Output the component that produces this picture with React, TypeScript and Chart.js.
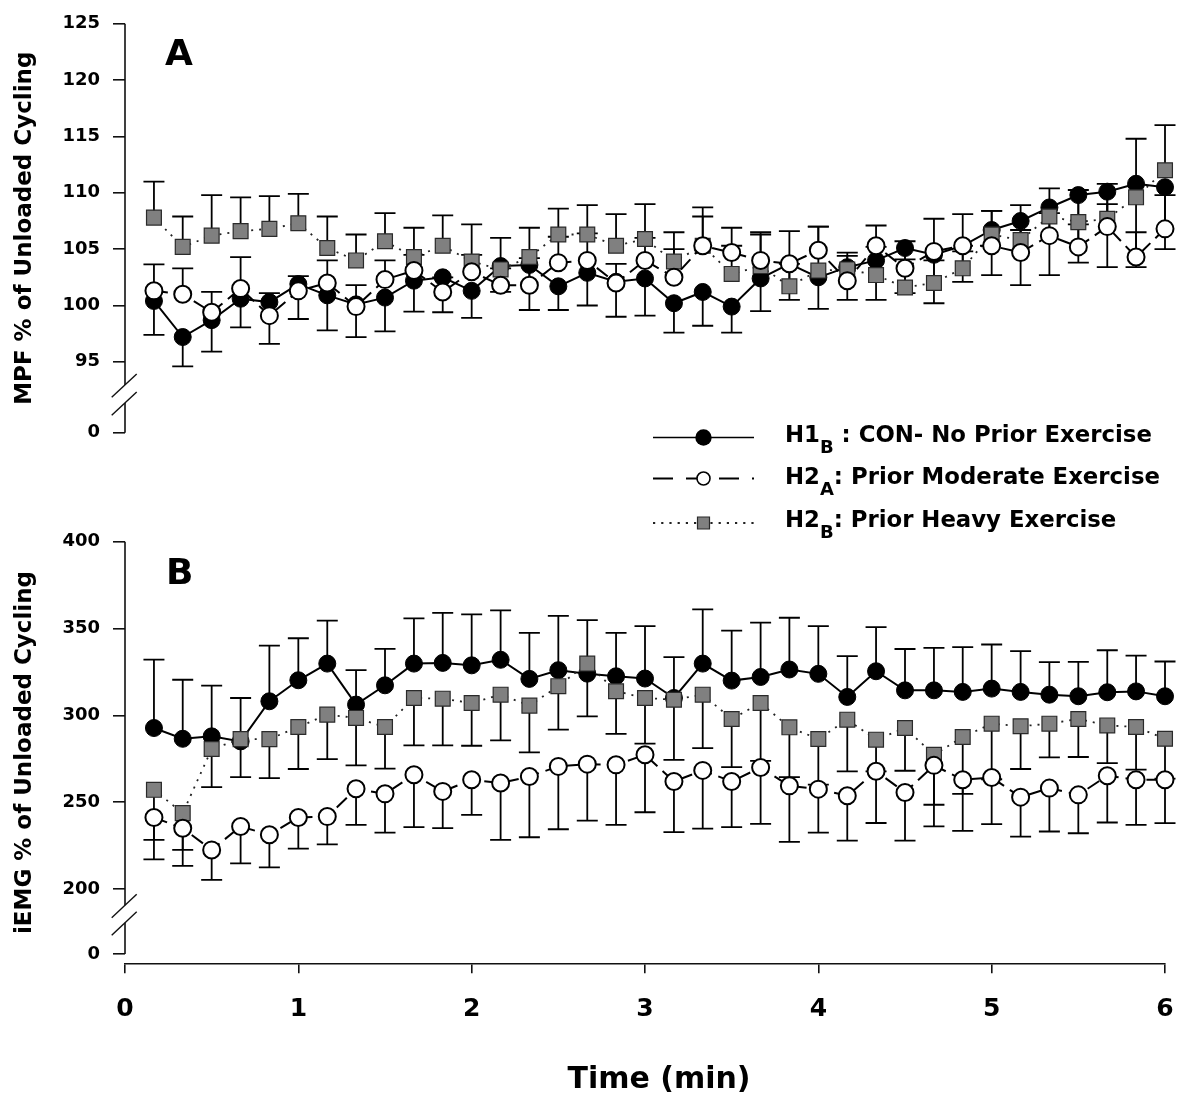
import React, { useEffect, useRef } from 'react';
import { Chart, registerables } from 'chart.js';

Chart.register(...registerables);

const FONT = "'DejaVu Sans', 'Liberation Sans', sans-serif";

// Time points (min)
const timeMin = [0.167, 0.333, 0.5, 0.667, 0.833, 1, 1.167, 1.333, 1.5, 1.667, 1.833, 2,
  2.167, 2.333, 2.5, 2.667, 2.833, 3, 3.167, 3.333, 3.5, 3.667, 3.833, 4,
  4.167, 4.333, 4.5, 4.667, 4.833, 5, 5.167, 5.333, 5.5, 5.667, 5.833, 6];

// Panel A: MPF % of unloaded cycling
const mpfCon = [100.4, 97.2, 98.7, 100.6, 100.3, 101.9, 100.9, 100.1, 100.7, 102.2, 102.5, 101.3,
  103.5, 103.6, 101.7, 102.9, 102.1, 102.4, 100.2, 101.2, 99.9, 102.4, 103.7, 102.5,
  103.4, 104.0, 105.1, 104.5, 105.3, 106.7, 107.5, 108.7, 109.8, 110.1, 110.8, 110.5];
const mpfConSE = [3.0, 2.6, 2.8, 2.55, 3.7, 3.1, 3.1, 2.9, 3.0, 2.75, 3.1, 2.4,
  2.3, 4.0, 2.1, 2.9, 3.1, 3.3, 2.6, 3.0, 2.3, 2.9, 3.2, 2.8,
  2.9, 3.5, 4.0, 4.3, 3.2, 4.0, 5.7, 6.0, 6.0, 6.7, 7.4, 5.5];
const mpfModerate = [101.3, 101.0, 99.4, 101.5, 99.1, 101.3, 102.0, 99.9, 102.3, 103.1, 101.2, 103.0,
  101.8, 101.8, 103.8, 104.0, 102.0, 104.0, 102.5, 105.3, 104.7, 104.0, 103.7, 104.9,
  102.2, 105.3, 103.3, 104.8, 105.3, 105.3, 104.7, 106.2, 105.2, 107.0, 104.3, 106.8];
const mpfModerateSE = [2.35, 2.3, 1.8, 2.8, 2.0, 1.3, 2.0, 1.9, 1.7, 1.4, 1.3, 1.5,
  1.5, 2.4, 2.3, 2.4, 1.7, 2.0, 2.5, 2.6, 0.6, 2.3, 2.9, 2.1,
  2.5, 1.8, 2.4, 2.9, 2.8, 3.1, 2.0, 2.0, 2.0, 2.0, 2.2, 3.0];
const mpfHeavy = [107.8, 105.2, 106.2, 106.6, 106.8, 107.3, 105.1, 104.0, 105.7, 104.3, 105.3, 103.9,
  103.2, 104.3, 106.3, 106.3, 105.3, 105.9, 103.9, 105.3, 102.8, 103.5, 101.7, 103.1,
  103.2, 102.7, 101.6, 102.0, 103.3, 106.3, 105.8, 107.9, 107.4, 107.7, 109.6, 112.0];
const mpfHeavySE = [3.2, 2.7, 3.6, 3.0, 2.9, 2.6, 2.8, 2.3, 2.5, 2.6, 2.7, 3.3,
  2.8, 2.6, 2.3, 2.6, 2.8, 3.1, 2.6, 3.4, 4.1, 3.0, 2.0, 3.9,
  1.2, 2.5, 2.5, 2.0, 1.5, 2.1, 3.1, 2.5, 2.85, 3.1, 5.2, 4.0];

// Panel B: iEMG % of unloaded cycling
const emgCon = [292.7, 286.5, 287.9, 285.0, 308.1, 320.2, 329.8, 306.2, 317.3, 329.8, 330.2, 328.8,
  332.0, 321.0, 326.0, 324.0, 322.5, 321.2, 310.0, 329.8, 320.0, 322.1, 326.4, 323.9,
  310.6, 325.4, 314.4, 314.4, 313.5, 315.4, 313.5, 311.9, 311.0, 313.3, 313.8, 311.0];
const emgConSE = [39.4, 34.0, 29.2, 25.0, 32.1, 24.2, 24.8, 19.8, 21.0, 26.0, 28.8, 29.4,
  28.5, 26.5, 31.3, 30.8, 25.0, 30.2, 23.5, 31.2, 28.8, 31.3, 29.8, 27.5,
  23.5, 25.4, 23.8, 24.4, 25.8, 25.4, 23.5, 18.8, 19.8, 24.2, 20.6, 20.0];
const emgModerate = [241.2, 235.0, 222.5, 236.0, 231.2, 241.2, 241.7, 257.7, 254.8, 265.8, 256.2, 262.9,
  261.0, 264.8, 270.6, 271.9, 271.5, 277.3, 261.9, 268.3, 261.9, 270.0, 259.4, 257.5,
  253.7, 267.8, 255.6, 271.2, 262.9, 264.2, 252.9, 258.1, 254.2, 265.2, 262.9, 262.9];
const emgModerateSE = [24.2, 21.7, 17.3, 21.2, 18.8, 18.0, 16.0, 20.8, 22.3, 30.2, 21.2, 20.2,
  32.7, 35.0, 36.2, 32.5, 34.6, 33.1, 29.2, 33.5, 26.3, 32.5, 32.3, 25.0,
  25.8, 29.8, 27.7, 35.2, 29.4, 26.9, 22.7, 25.0, 22.1, 26.9, 26.0, 25.0];
const emgHeavy = [257.1, 243.7, 280.6, 286.3, 286.3, 293.3, 300.4, 298.5, 293.3, 310.0, 309.6, 307.1,
  311.9, 305.6, 316.8, 329.8, 313.9, 310.0, 309.0, 311.9, 297.9, 307.1, 293.1, 286.4,
  297.5, 286.0, 292.7, 277.3, 287.5, 295.2, 293.7, 295.2, 297.9, 294.2, 293.3, 286.5];
const emgHeavySE = [28.8, 21.2, 21.9, 21.9, 22.5, 24.2, 25.6, 27.3, 24.0, 27.3, 26.9, 24.6,
  26.3, 26.9, 25.0, 30.4, 24.6, 26.3, 34.6, 30.8, 27.7, 33.3, 28.7, 26.3,
  29.8, 18.3, 24.6, 28.8, 32.7, 32.0, 24.6, 19.4, 21.9, 21.7, 24.6, 23.0];

// Axis ticks (broken axes: lowest tick is labelled 0)
const mpfTicks = [88.71, 95, 100, 105, 110, 115, 120, 125];
const emgTicks = [162.57, 200, 250, 300, 350, 400];
const xTicks = [0, 1, 2, 3, 4, 5, 6];

const legendLabels = [
  { main: 'H1', sub: 'B', rest: ' : CON- No Prior Exercise' },
  { main: 'H2', sub: 'A', rest: ': Prior Moderate Exercise' },
  { main: 'H2', sub: 'B', rest: ': Prior Heavy Exercise' },
];

const pts = (xs: number[], ys: number[]) => xs.map((x, i) => ({ x, y: ys[i] }));

function seriesStyle(kind: 'con' | 'mod' | 'heavy') {
  if (kind === 'con') {
    return {
      order: 3, borderColor: '#000', borderWidth: 2, borderDash: [],
      pointStyle: 'circle', pointRadius: 8.5, pointBackgroundColor: '#000',
      pointBorderColor: '#000', pointBorderWidth: 1,
    };
  }
  if (kind === 'mod') {
    return {
      order: 1, borderColor: '#000', borderWidth: 2, borderDash: [14, 7],
      pointStyle: 'circle', pointRadius: 8.5, pointBackgroundColor: '#fff',
      pointBorderColor: '#000', pointBorderWidth: 2,
    };
  }
  return {
    order: 2, borderColor: '#222', borderWidth: 1.8, borderDash: [2, 6],
    pointStyle: 'rect', pointRadius: 10.5, pointBackgroundColor: '#808080',
    pointBorderColor: '#2a2a2a', pointBorderWidth: 1.2,
  };
}

const errorBarPlugin = {
  id: 'errorBars',
  beforeDatasetsDraw(chart: any) {
    const ctx = chart.ctx;
    const xs = chart.scales.x;
    const ys = chart.scales.y;
    ctx.save();
    ctx.strokeStyle = '#000';
    ctx.lineWidth = 1.8;
    ctx.setLineDash([]);
    chart.data.datasets.forEach((ds: any) => {
      if (!ds.errs) return;
      ds.data.forEach((p: any, i: number) => {
        const x = xs.getPixelForValue(p.x);
        const y0 = ys.getPixelForValue(p.y);
        const y1 = ys.getPixelForValue(p.y + ds.errDir * ds.errs[i]);
        ctx.beginPath();
        ctx.moveTo(x, y0);
        ctx.lineTo(x, y1);
        ctx.moveTo(x - 10.5, y1);
        ctx.lineTo(x + 10.5, y1);
        ctx.stroke();
      });
    });
    ctx.restore();
  },
};

function brokenAxisPlugin(topVal: number, break1: number, break2: number, zeroVal: number) {
  return {
    id: 'brokenAxis',
    afterDraw(chart: any) {
      const ctx = chart.ctx;
      const ys = chart.scales.y;
      const x0 = chart.chartArea.left;
      const yTop = ys.getPixelForValue(topVal);
      const yb1 = ys.getPixelForValue(break1);
      const yb2 = ys.getPixelForValue(break2);
      const yZero = ys.getPixelForValue(zeroVal);
      ctx.save();
      ctx.strokeStyle = '#111';
      ctx.lineWidth = 1.6;
      ctx.setLineDash([]);
      ctx.beginPath();
      ctx.moveTo(x0, yTop);
      ctx.lineTo(x0, yb1);
      ctx.moveTo(x0, yb2);
      ctx.lineTo(x0, yZero);
      ctx.stroke();
      ctx.lineWidth = 1.4;
      [yb1, yb2].forEach((yb) => {
        ctx.beginPath();
        ctx.moveTo(x0 - 13.3, yb + 12.4);
        ctx.lineTo(x0 + 11.7, yb - 11);
        ctx.stroke();
      });
      ctx.restore();
    },
  };
}

function letterPlugin(letter: string, x: number, y: number) {
  return {
    id: 'panelLetter',
    afterDraw(chart: any) {
      const ctx = chart.ctx;
      ctx.save();
      ctx.fillStyle = '#000';
      ctx.font = `bold 36px ${FONT}`;
      ctx.textAlign = 'left';
      ctx.textBaseline = 'alphabetic';
      ctx.fillText(letter, x, y);
      ctx.restore();
    },
  };
}

const legendPlugin = {
  id: 'customLegend',
  afterDraw(chart: any) {
    const ctx = chart.ctx;
    const lineRows = [437.5, 478.5, 523];
    const textRows = [436, 478, 521];
    const kinds = ['con', 'mod', 'heavy'];
    ctx.save();
    legendLabels.forEach((item, i) => {
      const y = lineRows[i];
      const kind = kinds[i];
      // line sample
      ctx.beginPath();
      ctx.strokeStyle = kind === 'heavy' ? '#222' : '#000';
      ctx.lineWidth = kind === 'con' ? 1.6 : 2;
      if (kind === 'mod') ctx.setLineDash([20, 13]);
      else if (kind === 'heavy') ctx.setLineDash([2.2, 6]);
      else ctx.setLineDash([]);
      ctx.moveTo(653, y);
      ctx.lineTo(754, y);
      ctx.stroke();
      ctx.setLineDash([]);
      // marker
      ctx.beginPath();
      if (kind === 'con') {
        ctx.fillStyle = '#000';
        ctx.arc(703.5, y, 8.2, 0, Math.PI * 2);
        ctx.fill();
      } else if (kind === 'mod') {
        ctx.fillStyle = '#fff';
        ctx.strokeStyle = '#000';
        ctx.lineWidth = 1.6;
        ctx.arc(703.5, y, 6.5, 0, Math.PI * 2);
        ctx.fill();
        ctx.stroke();
      } else {
        ctx.fillStyle = '#808080';
        ctx.strokeStyle = '#2a2a2a';
        ctx.lineWidth = 1.2;
        ctx.rect(697.5, y - 6, 12, 12);
        ctx.fill();
        ctx.stroke();
      }
      // text
      const ty = textRows[i];
      ctx.fillStyle = '#000';
      ctx.textAlign = 'left';
      ctx.textBaseline = 'middle';
      let x = 785;
      ctx.font = `bold 22.8px ${FONT}`;
      ctx.fillText(item.main, x, ty);
      x += ctx.measureText(item.main).width;
      ctx.font = `bold 18px ${FONT}`;
      ctx.fillText(item.sub, x, ty + 12);
      x += ctx.measureText(item.sub).width;
      ctx.font = `bold 22.8px ${FONT}`;
      ctx.fillText(item.rest, x, ty);
    });
    ctx.restore();
  },
};

const xTitlePlugin = {
  id: 'xTitle',
  afterDraw(chart: any) {
    const ctx = chart.ctx;
    ctx.save();
    ctx.fillStyle = '#000';
    ctx.font = `bold 30px ${FONT}`;
    ctx.textAlign = 'center';
    ctx.textBaseline = 'middle';
    ctx.fillText('Time (min)', 659, 600);
    ctx.restore();
  },
};

function yScale(min: number, max: number, ticks: number[], zeroLimit: number, title: string) {
  return {
    type: 'linear',
    position: 'left',
    min,
    max,
    afterBuildTicks: (scale: any) => {
      scale.ticks = ticks.map((v) => ({ value: v }));
    },
    afterFit: (scale: any) => {
      scale.width = 125;
    },
    ticks: {
      callback: (v: any) => (v < zeroLimit ? '0' : String(v)),
      font: { family: FONT, size: 18, weight: 'bold' },
      color: '#000',
      padding: 13,
    },
    grid: {
      display: true,
      drawOnChartArea: false,
      drawTicks: true,
      tickLength: 12,
      color: '#111',
      lineWidth: 1.6,
    },
    border: { display: false },
    title: {
      display: true,
      text: title,
      color: '#000',
      font: { family: FONT, size: 23, weight: 'bold' },
      padding: { top: 11, bottom: 0 },
    },
  };
}

function buildDatasets(con: number[], conSE: number[], mod: number[], modSE: number[],
  heavy: number[], heavySE: number[], conDir: number, otherDir: number) {
  return [
    { label: 'H1B : CON- No Prior Exercise', data: pts(timeMin, con), errs: conSE, errDir: conDir, ...seriesStyle('con'), fill: false, tension: 0, clip: false },
    { label: 'H2A: Prior Moderate Exercise', data: pts(timeMin, mod), errs: modSE, errDir: otherDir, ...seriesStyle('mod'), fill: false, tension: 0, clip: false },
    { label: 'H2B: Prior Heavy Exercise', data: pts(timeMin, heavy), errs: heavySE, errDir: otherDir, ...seriesStyle('heavy'), fill: false, tension: 0, clip: false },
  ];
}

export default function App() {
  const refA = useRef<HTMLCanvasElement>(null);
  const refB = useRef<HTMLCanvasElement>(null);

  useEffect(() => {
    const common = {
      responsive: false,
      animation: false,
      events: [],
      plugins: { legend: { display: false }, tooltip: { enabled: false } },
    };

    const chartA = new Chart(refA.current as HTMLCanvasElement, {
      type: 'line',
      data: {
        datasets: buildDatasets(mpfCon, mpfConSE, mpfModerate, mpfModerateSE, mpfHeavy, mpfHeavySE, -1, 1) as any,
      },
      options: {
        ...common,
        layout: { padding: { left: 0, right: 20, top: 20, bottom: 112.3 } },
        scales: {
          x: { type: 'linear', min: 0, max: 6, display: false },
          y: yScale(88.71, 125, mpfTicks, 90, 'MPF % of Unloaded Cycling'),
        },
      } as any,
      plugins: [errorBarPlugin, brokenAxisPlugin(125, 92.95, 91.35, 88.71), letterPlugin('A', 165, 65), legendPlugin],
    });

    const chartB = new Chart(refB.current as HTMLCanvasElement, {
      type: 'line',
      data: {
        datasets: buildDatasets(emgCon, emgConSE, emgModerate, emgModerateSE, emgHeavy, emgHeavySE, 1, -1) as any,
      },
      options: {
        ...common,
        layout: { padding: { left: 0, right: 20, top: 61.7, bottom: 0 } },
        scales: {
          x: {
            type: 'linear',
            min: 0,
            max: 6,
            afterBuildTicks: (scale: any) => {
              scale.ticks = xTicks.map((v) => ({ value: v }));
            },
            afterFit: (scale: any) => {
              scale.height = 141.7;
              scale.paddingLeft = 0;
              scale.paddingRight = 0;
            },
            ticks: {
              font: { family: FONT, size: 25, weight: 'bold' },
              color: '#000',
              padding: 21,
              maxRotation: 0,
            },
            grid: {
              display: true,
              drawOnChartArea: false,
              drawTicks: true,
              tickLength: 10,
              color: '#111',
              lineWidth: 1.6,
            },
            border: { display: true, color: '#111', width: 1.6 },
          },
          y: yScale(157.2, 400, emgTicks, 170, 'iEMG % of Unloaded Cycling'),
        },
      } as any,
      plugins: [errorBarPlugin, brokenAxisPlugin(400, 190.6, 180.5, 162.57), letterPlugin('B', 166, 104), xTitlePlugin],
    });

    return () => {
      chartA.destroy();
      chartB.destroy();
    };
  }, []);

  return (
    <div style={{ position: 'absolute', left: 0, top: 0, width: 1185, height: 1105, background: '#fff' }}>
      <canvas ref={refA} width={1185} height={545}
        style={{ position: 'absolute', left: 0, top: 0, width: 1185, height: 545 }} />
      <canvas ref={refB} width={1185} height={625}
        style={{ position: 'absolute', left: 0, top: 480, width: 1185, height: 625 }} />
    </div>
  );
}
